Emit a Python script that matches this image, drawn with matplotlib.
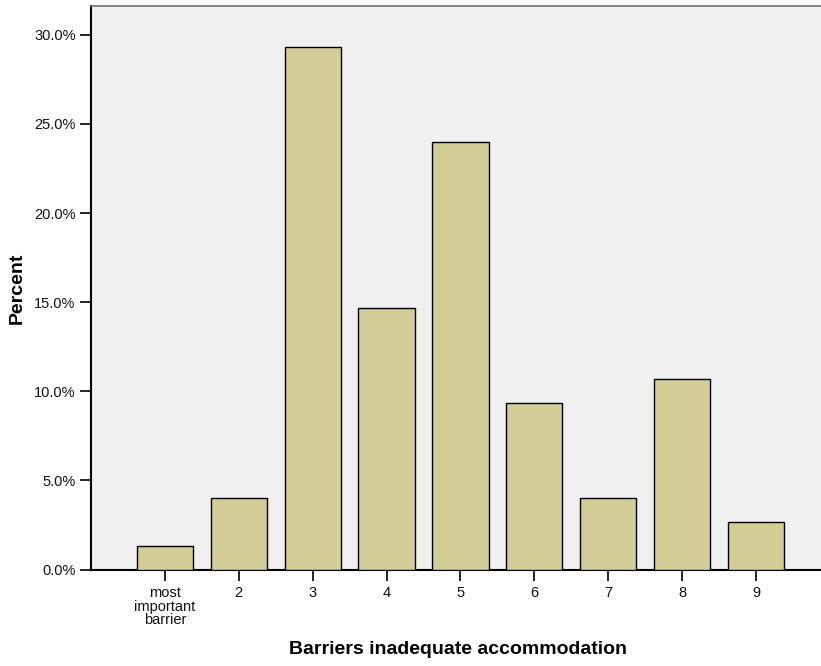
import matplotlib
matplotlib.use("Agg")
import matplotlib.pyplot as plt
from matplotlib.ticker import FuncFormatter

categories = ["most\nimportant\nbarrier", "2", "3", "4", "5", "6", "7", "8", "9"]
percent = [1.33, 4.0, 29.33, 14.67, 24.0, 9.33, 4.0, 10.67, 2.67]
yticks = [0, 5, 10, 15, 20, 25, 30]

plt.rcParams['font.family'] = ['Liberation Sans', 'DejaVu Sans']

fig = plt.figure(figsize=(8.21, 6.66), dpi=100)
ax = fig.add_axes([91/821, (666-569.5)/666, 1 - 91/821, (569.5-6)/666])
ax.set_facecolor('#F0F0F0')

x = list(range(len(categories)))
ax.bar(x, percent, width=0.76, color='#D3CE97', edgecolor='black', linewidth=1.0, zorder=3)

ax.set_xlim(-1.0, 8.88)
ax.set_ylim(0, 31.62)
ax.set_xticks(x)
ax.set_xticklabels(categories, fontsize=10.5, linespacing=0.95)
ax.set_yticks(yticks)
ax.yaxis.set_major_formatter(FuncFormatter(lambda v, p: f"{v:.1f}%"))
ax.tick_params(axis='y', labelsize=10.5, length=8, width=1.2, pad=3, labelcolor='#111111')
ax.tick_params(axis='x', length=8, width=1.2, pad=4, labelcolor='#111111')

ax.spines['right'].set_visible(False)
ax.spines['top'].set_color('#707070')
ax.spines['top'].set_linewidth(1.2)
ax.spines['left'].set_linewidth(1.5)
ax.spines['bottom'].set_linewidth(1.5)

ax.set_xlabel("Barriers inadequate accommodation", fontsize=14, fontweight='bold')
ax.xaxis.set_label_coords((458 - 91) / (821 - 91), -(650 - 569.5) / (569.5 - 6))
ax.xaxis.label.set_verticalalignment('center')
ax.set_ylabel("Percent", fontsize=14, fontweight='bold')
ax.yaxis.set_label_coords(-(91 - 17) / (821 - 91), (569.5 - 288) / (569.5 - 6))
ax.yaxis.label.set_verticalalignment('center')

fig.savefig("out.png", dpi=100)
